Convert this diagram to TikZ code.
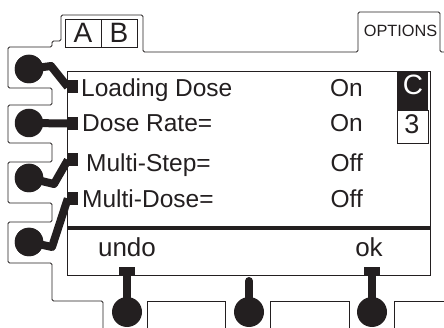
\documentclass[tikz,border=0pt]{standalone}
\usepackage{fontspec}
\setmainfont{Liberation Sans}
\definecolor{ink}{HTML}{231F20}
\begin{document}
\begin{tikzpicture}[x=1pt,y=-1pt,
  outl/.style={draw=ink, line width=0.9pt},
  btn/.style={circle, fill=ink, minimum size=28.5pt, inner sep=0pt},
  bbtn/.style={circle, fill=ink, minimum size=30pt, inner sep=0pt},
  sq/.style={rectangle, fill=ink, minimum width=10pt, minimum height=13pt, inner sep=0pt},
  bsq/.style={rectangle, fill=ink, minimum width=16pt, minimum height=8pt, inner sep=0pt},
  conn/.style={draw=ink, line width=8pt, line join=round},
  lbl/.style={inner sep=0pt, anchor=base west, text=ink, font=\fontsize{24.5}{28}\selectfont},
  val/.style={inner sep=0pt, anchor=base east, text=ink, font=\fontsize{24.5}{28}\selectfont},
  soft/.style={inner sep=0pt, anchor=base, text=ink, font=\fontsize{26}{30}\selectfont},
  tabcell/.style={draw=ink, line width=0.9pt, minimum width=36pt, minimum height=28pt, inner sep=0pt, text=ink, font=\fontsize{28}{32}\selectfont}
]
\useasboundingbox (0,0) rectangle (444,328);

% housing outline
\draw[outl, rounded corners=1.5pt] (444,52) -- (440,52) -- (440,12) -- (358,12) -- (358,52) -- (143,52) -- (143,15) -- (61,15) -- (61,41) -- (52,41) -- (52,47) -- (8,47) -- (8,88) -- (52,88) -- (52,105) -- (8,105) -- (8,143) -- (52,143) -- (52,162) -- (8,162) -- (8,203) -- (52,203) -- (52,222) -- (8,222) -- (8,263) -- (52,263) -- (52,301) -- (103,301) -- (103,328);
\draw[outl] (147,328) -- (147,301) -- (225,301) -- (225,328);
\draw[outl] (270,328) -- (270,301) -- (349,301) -- (349,328);
\draw[outl] (394,328) -- (394,301) -- (444,301);

% tabs
\node[tabcell] (tabA) at (83,33) {A};
\node[tabcell] (tabB) at (119,33) {B};
\node[inner sep=0pt, anchor=base, text=ink, font=\fontsize{16.3}{18}\selectfont] (opt) at (400.5,37) {OPTIONS};

% screen
\node[draw=ink, line width=0.9pt, minimum width=363pt, minimum height=204pt, inner sep=0pt, anchor=north west] (screen) at (67,71) {};
\coordinate (sepL) at (67,228);
\coordinate (sepR) at (430,228);
\draw[draw=ink, line width=4pt] (sepL) -- (sepR);

% C / 3 boxes
\node[fill=ink, minimum width=31pt, minimum height=38pt, inner sep=0pt] (cbox) at (412.5,91) {};
\node[inner sep=0pt, text=white, font=\fontsize{28}{32}\selectfont] (ctext) at (413,85) {C};
\node[draw=ink, line width=0.9pt, fill=white, minimum width=31pt, minimum height=33pt, inner sep=0pt] (nbox) at (412.5,126.5) {};
\node[inner sep=0pt, text=ink, font=\fontsize{27}{32}\selectfont] (ntext) at (412,124) {3};

% menu text
\node[lbl] (t1) at (81,97) {Loading Dose};
\node[lbl] (t2) at (82,132) {Dose Rate=};
\node[lbl] (t3) at (86,172) {Multi-Step=};
\node[lbl] (t4) at (82,208) {Multi-Dose=};
\node[val] (v1) at (363,97) {On};
\node[val] (v2) at (363,132) {On};
\node[val] (v3) at (363,172) {Off};
\node[val] (v4) at (363,208) {Off};
\node[soft] (undo) at (127,257) {undo};
\node[soft] (ok) at (369,257) {ok};

% left buttons
\node[sq] (s1) at (73,87) {};
\node[sq] (s2) at (73,123.5) {};
\node[sq] (s3) at (73,160) {};
\node[sq] (s4) at (73,198.5) {};
\node[btn] (b1) at (29,69) {};
\node[btn] (b2) at (29,123) {};
\node[btn] (b3) at (29,178) {};
\node[btn] (b4) at (29,242) {};
\draw[conn] (b1.center) -- (51,66) -- (s1.west);
\draw[conn] (b2.center) -- (s2.west);
\draw[conn] (b3.center) -- (54,184) -- (s3.west);
\draw[conn] (b4.center) -- (52,247) -- (s4.west);
\node[sq] at (s1) {};
\node[sq] at (s2) {};
\node[sq] at (s3) {};
\node[sq] at (s4) {};
\node[btn] at (b1) {};
\node[btn] at (b3) {};
\node[btn] at (b4) {};

% bottom buttons
\node[bsq] (bs1) at (127,271) {};
\node[bsq] (bs3) at (372,271) {};
\coordinate (bm) at (249,281);
\node[bbtn] (bc1) at (127,312) {};
\node[bbtn] (bc2) at (249,312) {};
\node[bbtn] (bc3) at (372,312) {};
\draw[conn] (bs1.center) -- (bc1.center);
\draw[conn, line cap=round] (bm) -- (bc2.center);
\draw[conn] (bs3.center) -- (bc3.center);
\end{tikzpicture}
\end{document}
